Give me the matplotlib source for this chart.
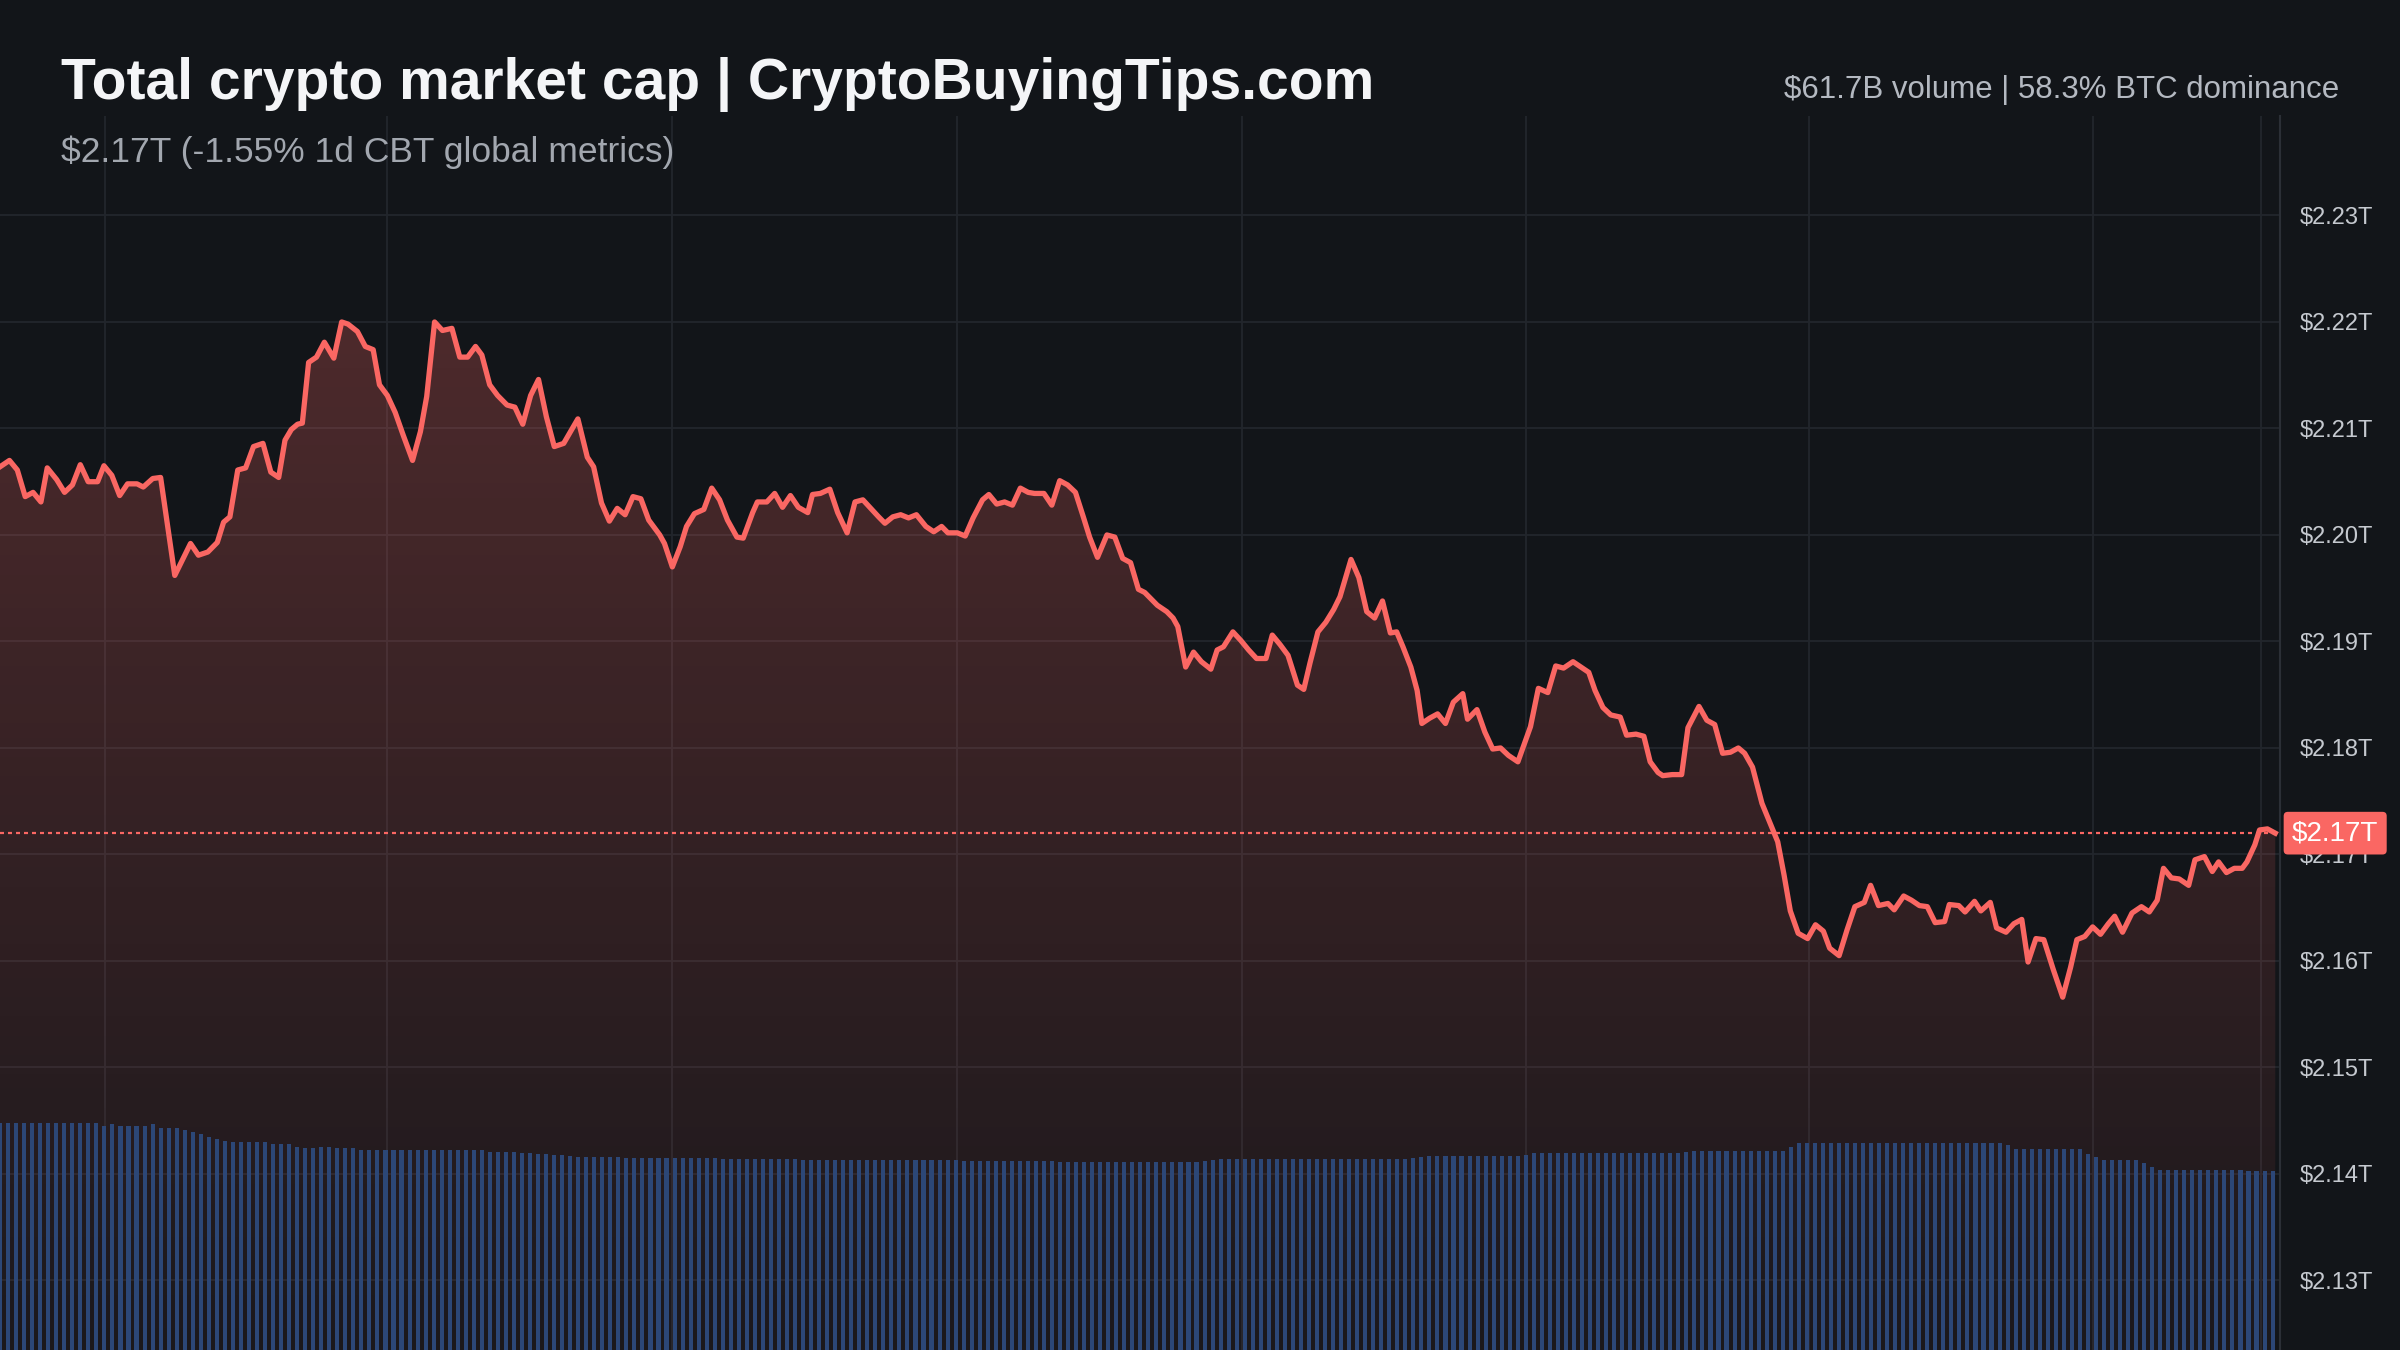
import matplotlib.pyplot as plt
import numpy as np
from matplotlib.colors import LinearSegmentedColormap
from matplotlib.patches import Polygon
from matplotlib.transforms import blended_transform_factory

plt.rcParams["font.family"] = ["Liberation Sans", "DejaVu Sans"]

# ---------------------------------------------------------------------------
# Data
# ---------------------------------------------------------------------------
# minutes since the start of the 24h window, total cap in $T
price_minutes = [
    0, 6, 11, 16, 21, 26, 30, 36, 41, 46, 51, 56, 62, 66, 71, 76, 81, 87, 91, 97,
    102, 111, 121, 126, 132, 138, 142, 146, 151, 156, 161, 167, 172, 177, 181, 185,
    189, 192, 196, 201, 206, 212, 217, 221, 227, 232, 237, 241, 246, 251, 256, 262,
    267, 271, 276, 281, 287, 292, 297, 302, 306, 311, 316, 322, 327, 332, 337, 342,
    347, 352, 358, 367, 373, 377, 382, 387, 392, 397, 402, 407, 412, 419, 422, 427,
    432, 436, 441, 447, 452, 457, 462, 468, 472, 478, 481, 487, 492, 497, 502, 507,
    513, 516, 521, 527, 532, 538, 543, 548, 553, 558, 562, 567, 572, 577, 582, 588,
    593, 598, 602, 608, 613, 618, 624, 628, 633, 638, 643, 648, 653, 657, 663, 668,
    673, 678, 683, 688, 692, 697, 703, 708, 713, 718, 723, 727, 735, 741, 745, 748,
    753, 758, 763, 769, 773, 777, 783, 788, 793, 798, 804, 808, 813, 818, 821, 824,
    828, 832, 837, 842, 847, 851, 858, 863, 868, 873, 878, 883, 887, 891, 896, 900,
    903, 908, 913, 918, 923, 929, 932, 938, 943, 948, 953, 958, 964, 972, 977, 983,
    988, 993, 999, 1004, 1009, 1013, 1018, 1023, 1029, 1033, 1039, 1044, 1048, 1053,
    1056, 1062, 1068, 1072, 1079, 1084, 1089, 1094, 1099, 1104, 1108, 1113, 1119,
    1124, 1129, 1133, 1137, 1142, 1148, 1153, 1158, 1162, 1168, 1173, 1178, 1184,
    1188, 1193, 1199, 1203, 1209, 1214, 1219, 1224, 1229, 1235, 1238, 1244, 1248,
    1254, 1258, 1264, 1268, 1274, 1279, 1284, 1288, 1293, 1298, 1304, 1310, 1315,
    1319, 1324, 1329, 1334, 1339, 1343, 1348, 1354, 1360, 1365, 1370, 1374, 1379,
    1384, 1390, 1394, 1400, 1405, 1409, 1414, 1419, 1424, 1427, 1432, 1435, 1440, 1445,
]
price_trillions = [
    2.2064, 2.2070, 2.2061, 2.2036, 2.2040, 2.2031, 2.2063, 2.2052, 2.2040, 2.2047,
    2.2066, 2.2050, 2.2050, 2.2065, 2.2056, 2.2037, 2.2048, 2.2048, 2.2045, 2.2053,
    2.2054, 2.1962, 2.1992, 2.1981, 2.1984, 2.1993, 2.2012, 2.2017, 2.2061, 2.2063,
    2.2083, 2.2086, 2.2059, 2.2054, 2.2089, 2.2099, 2.2104, 2.2105, 2.2162, 2.2167,
    2.2181, 2.2166, 2.2200, 2.2198, 2.2191, 2.2177, 2.2174, 2.2141, 2.2131, 2.2115,
    2.2094, 2.2070, 2.2097, 2.2130, 2.2200, 2.2192, 2.2194, 2.2167, 2.2167, 2.2177,
    2.2169, 2.2141, 2.2131, 2.2122, 2.2120, 2.2104, 2.2131, 2.2146, 2.2111, 2.2083,
    2.2086, 2.2109, 2.2073, 2.2064, 2.2030, 2.2013, 2.2025, 2.2019, 2.2036, 2.2034,
    2.2014, 2.2000, 2.1992, 2.1970, 2.1989, 2.2008, 2.2020, 2.2024, 2.2044, 2.2033,
    2.2014, 2.1998, 2.1997, 2.2021, 2.2031, 2.2031, 2.2039, 2.2026, 2.2037, 2.2026,
    2.2021, 2.2038, 2.2039, 2.2043, 2.2021, 2.2002, 2.2031, 2.2033, 2.2025, 2.2017,
    2.2011, 2.2017, 2.2019, 2.2016, 2.2019, 2.2008, 2.2003, 2.2008, 2.2002, 2.2002,
    2.1999, 2.2016, 2.2033, 2.2038, 2.2029, 2.2031, 2.2028, 2.2044, 2.2040, 2.2039,
    2.2039, 2.2028, 2.2051, 2.2047, 2.2040, 2.2017, 2.1998, 2.1979, 2.2000, 2.1998,
    2.1978, 2.1974, 2.1949, 2.1946, 2.1934, 2.1928, 2.1922, 2.1914, 2.1876, 2.1890,
    2.1881, 2.1874, 2.1892, 2.1895, 2.1909, 2.1901, 2.1892, 2.1884, 2.1884, 2.1906,
    2.1897, 2.1887, 2.1873, 2.1859, 2.1855, 2.1880, 2.1909, 2.1918, 2.1930, 2.1942,
    2.1977, 2.1960, 2.1928, 2.1922, 2.1938, 2.1908, 2.1909, 2.1895, 2.1876, 2.1854,
    2.1823, 2.1828, 2.1832, 2.1823, 2.1843, 2.1851, 2.1827, 2.1836, 2.1815, 2.1799,
    2.1800, 2.1793, 2.1787, 2.1820, 2.1856, 2.1852, 2.1877, 2.1875, 2.1881, 2.1876,
    2.1871, 2.1854, 2.1838, 2.1831, 2.1829, 2.1812, 2.1813, 2.1811, 2.1787, 2.1777,
    2.1774, 2.1775, 2.1775, 2.1819, 2.1839, 2.1826, 2.1822, 2.1795, 2.1796, 2.1800,
    2.1795, 2.1782, 2.1748, 2.1730, 2.1712, 2.1681, 2.1647, 2.1626, 2.1621, 2.1634,
    2.1628, 2.1612, 2.1605, 2.1629, 2.1651, 2.1655, 2.1671, 2.1652, 2.1654, 2.1648,
    2.1661, 2.1657, 2.1652, 2.1651, 2.1636, 2.1637, 2.1653, 2.1652, 2.1646, 2.1656,
    2.1647, 2.1655, 2.1631, 2.1627, 2.1635, 2.1639, 2.1599, 2.1621, 2.1620, 2.1592,
    2.1566, 2.1594, 2.1620, 2.1623, 2.1632, 2.1625, 2.1635, 2.1642, 2.1627, 2.1645,
    2.1651, 2.1646, 2.1657, 2.1687, 2.1678, 2.1677, 2.1671, 2.1695, 2.1698, 2.1684,
    2.1693, 2.1683, 2.1687, 2.1687, 2.1693, 2.1709, 2.1723, 2.1724, 2.1720,
]

# rolling 24h volume per bar, $B (one bar every ~5 minutes)
volume_billions = [
    78.2, 78.2, 78.2, 78.2, 78.2, 78.2, 78.2, 78.2, 78.2, 78.2,
    78.2, 78.2, 78.2, 77.2, 78.0, 77.2, 77.2, 77.2, 77.2, 77.9,
    76.5, 76.5, 76.5, 75.8, 75.1, 74.5, 73.4, 72.7, 72.0, 71.7,
    71.7, 71.7, 71.7, 71.7, 71.0, 71.0, 71.0, 70.0, 69.6, 69.6,
    70.0, 70.0, 69.6, 69.6, 69.6, 68.9, 68.9, 68.9, 68.9, 68.9,
    68.9, 68.9, 68.9, 68.9, 68.9, 68.9, 68.9, 68.9, 68.9, 68.9,
    68.9, 68.3, 68.3, 68.3, 68.3, 68.0, 67.8, 67.6, 67.4, 67.2,
    67.0, 66.8, 66.6, 66.5, 66.5, 66.5, 66.4, 66.3, 66.2, 66.1,
    66.0, 66.0, 66.0, 66.0, 66.0, 66.0, 66.0, 66.0, 66.0, 66.0,
    65.8, 65.8, 65.8, 65.8, 65.8, 65.8, 65.8, 65.8, 65.8, 65.8,
    65.6, 65.6, 65.6, 65.6, 65.6, 65.6, 65.6, 65.6, 65.6, 65.6,
    65.3, 65.3, 65.3, 65.3, 65.3, 65.3, 65.3, 65.3, 65.3, 65.3,
    65.0, 65.0, 65.0, 65.0, 65.0, 65.0, 65.0, 65.0, 65.0, 65.0,
    65.0, 65.0, 64.8, 64.6, 64.6, 64.6, 64.6, 64.6, 64.6, 64.6,
    64.6, 64.6, 64.6, 64.6, 64.6, 64.6, 64.6, 64.6, 64.6, 64.6,
    65.2, 65.5, 65.8, 65.8, 65.8, 65.8, 65.8, 65.8, 65.8, 65.8,
    65.8, 65.8, 65.8, 65.8, 65.8, 65.8, 65.8, 65.8, 65.8, 65.8,
    65.8, 65.8, 65.8, 65.8, 65.8, 65.8, 66.2, 66.5, 66.9, 66.9,
    66.9, 66.9, 66.9, 66.9, 66.9, 66.9, 66.9, 66.9, 66.9, 66.9,
    67.3, 67.9, 67.9, 67.9, 67.9, 67.9, 67.9, 67.9, 67.9, 67.9,
    67.9, 67.9, 67.9, 67.9, 67.9, 67.9, 67.9, 67.9, 67.9, 67.9,
    68.3, 68.6, 68.6, 68.6, 68.6, 68.6, 68.6, 68.6, 68.6, 68.6,
    68.6, 68.6, 68.6, 70.0, 71.3, 71.3, 71.3, 71.3, 71.3, 71.3,
    71.3, 71.3, 71.3, 71.3, 71.3, 71.3, 71.3, 71.3, 71.3, 71.3,
    71.3, 71.3, 71.3, 71.3, 71.3, 71.3, 71.3, 71.3, 71.3, 71.3,
    70.5, 69.3, 69.3, 69.3, 69.3, 69.3, 69.3, 69.3, 69.3, 69.3,
    67.5, 66.5, 65.5, 65.5, 65.5, 65.5, 65.5, 64.5, 63.0, 62.0,
    62.0, 62.0, 62.0, 62.0, 62.0, 62.0, 62.0, 62.0, 62.0, 62.0,
    61.7, 61.7, 61.7, 61.7,
]

price_ticks = [2.13, 2.14, 2.15, 2.16, 2.17, 2.18, 2.19, 2.20, 2.21, 2.22, 2.23]
time_grid_minutes = [67, 246, 427, 608, 789, 969, 1149, 1329, 1436]

title = "Total crypto market cap | CryptoBuyingTips.com"
subtitle = "$2.17T (-1.55% 1d CBT global metrics)"
stats = "$61.7B volume | 58.3% BTC dominance"
last_label = "$2.17T"

# ---------------------------------------------------------------------------
# Style
# ---------------------------------------------------------------------------
BG = "#121519"
GRID = "#22262c"
LINE = "#fa6763"
VOL = "#2c4777"
AXIS_LINE = "#2b2f36"
TICK_TEXT = "#c5c9cf"

W, H = 2400, 1350
PLOT_RIGHT = 2280 / W
PLOT_TOP = 1 - 116 / H
BAR_STEP = 5.1  # minutes between volume bars

fig = plt.figure(figsize=(24, 13.5), dpi=100, facecolor=BG)
ax = fig.add_axes([0, 0, PLOT_RIGHT, PLOT_TOP])
ax.set_facecolor(BG)
ax.set_xlim(0, 1448)
ylo, yhi = 2.12347, 2.23934
ax.set_ylim(ylo, yhi)

# grid
for v in price_ticks:
    ax.axhline(v, color=GRID, lw=1.3, zorder=0)
for t in time_grid_minutes:
    ax.axvline(t, color=GRID, lw=1.3, zorder=0)

# gradient fill under the price line
r, g, b = 250 / 255, 103 / 255, 99 / 255
fade = LinearSegmentedColormap.from_list("fade", [(r, g, b, 0.04), (r, g, b, 0.30)])
grad = np.linspace(0, 1, 256).reshape(-1, 1)
im = ax.imshow(grad, extent=[0, 1448, ylo, yhi], origin="lower", aspect="auto",
               cmap=fade, zorder=1, interpolation="bicubic")
verts = [(price_minutes[0], ylo)] + list(zip(price_minutes, price_trillions)) + [(price_minutes[-1], ylo)]
clip = Polygon(verts, closed=True, facecolor="none", edgecolor="none", transform=ax.transData)
ax.add_patch(clip)
im.set_clip_path(clip)

ax.plot(price_minutes, price_trillions, color=LINE, lw=3.8, solid_joinstyle="round", zorder=4)
ax.axhline(price_trillions[-1], color=LINE, lw=1.6, dashes=(1.8, 1.8), zorder=3)

# volume histogram on its own scale
axv = ax.twinx()
axv.set_ylim(0, 425)
axv.bar(np.arange(len(volume_billions)) * BAR_STEP, volume_billions, width=2.6,
        color=VOL, edgecolor="none", zorder=2)
axv.axis("off")

# price scale on the right
ax.set_xticks([])
ax.set_yticks(price_ticks)
ax.set_yticklabels([f"${v:.2f}T" for v in price_ticks])
ax.yaxis.tick_right()
ax.tick_params(axis="y", length=0, pad=14, labelsize=17, labelcolor=TICK_TEXT)
for side in ["top", "left", "bottom"]:
    ax.spines[side].set_visible(False)
ax.spines["right"].set_color(AXIS_LINE)
ax.spines["right"].set_linewidth(1.5)

# last value tag
tag_tf = blended_transform_factory(ax.transAxes, ax.transData)
ax.text(1.0 + 12 / 2280, price_trillions[-1], last_label, transform=tag_tf,
        ha="left", va="center", fontsize=20, color="white", zorder=10, clip_on=False,
        bbox=dict(boxstyle="round,pad=0.3,rounding_size=0.15", fc=LINE, ec="none"))

# header texts
fig.text(61 / W, 1 - 99 / H, title, fontsize=41, fontweight="bold", color="#f4f5f7",
         ha="left", va="baseline")
fig.text(61 / W, 1 - 162 / H, subtitle, fontsize=25.5, color="#a2a7af",
         ha="left", va="baseline")
fig.text(2339 / W, 1 - 98 / H, stats, fontsize=22.5, color="#b4b9c1",
         ha="right", va="baseline")

fig.savefig("out.png", dpi=100, facecolor=BG)
